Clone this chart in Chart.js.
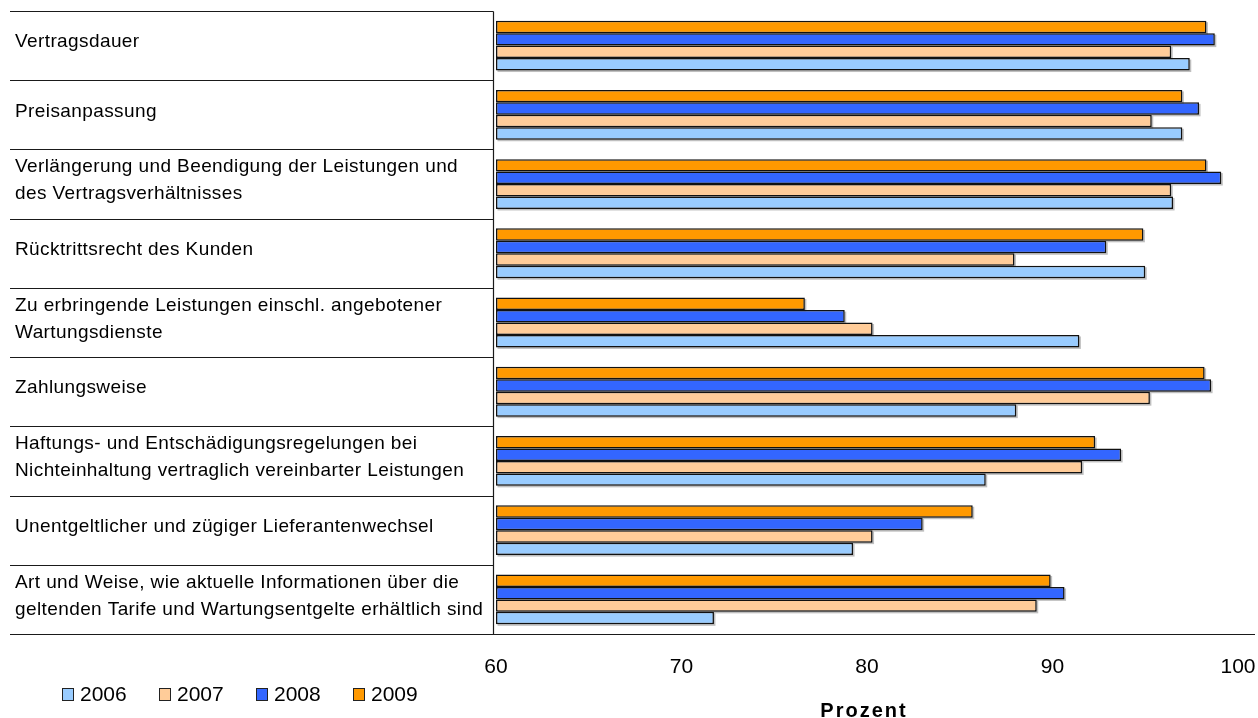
<!DOCTYPE html>
<html>
<head>
<meta charset="utf-8">
<script src="https://cdn.jsdelivr.net/npm/chart.js@4/dist/chart.umd.min.js"></script>
<style>
html,body{margin:0;padding:0;background:#fff;}
#wrap{position:relative;width:1258px;height:718px;overflow:hidden;}
canvas{display:block;}
.lg{position:absolute;top:682px;height:24px;display:flex;align-items:center;font:21px "Liberation Sans",Arial,sans-serif;color:#000;white-space:nowrap;}
.lg .box{width:10px;height:11px;border:1px solid #222;margin-right:6px;}
</style>
</head>
<body>
<div id="wrap">
<canvas id="c" width="1258" height="718"></canvas>
</div>
<script>
const categories = [
  ["Vertragsdauer"],
  ["Preisanpassung"],
  ["Verlängerung und Beendigung der Leistungen und", "des Vertragsverhältnisses"],
  ["Rücktrittsrecht des Kunden"],
  ["Zu erbringende Leistungen einschl. angebotener", "Wartungsdienste"],
  ["Zahlungsweise"],
  ["Haftungs- und Entschädigungsregelungen bei", "Nichteinhaltung vertraglich vereinbarter Leistungen"],
  ["Unentgeltlicher und zügiger Lieferantenwechsel"],
  ["Art und Weise, wie aktuelle Informationen über die", "geltenden Tarife und Wartungsentgelte erhältlich sind"]
];
const years = ["2006", "2007", "2008", "2009"];
const v2006 = [97.4, 97.0, 96.5, 95.0, 91.45, 88.05, 86.4, 79.25, 71.75];
const v2007 = [96.4, 95.35, 96.4, 87.95, 80.3, 95.25, 91.6, 80.3, 89.15];
const v2008 = [98.75, 97.9, 99.1, 92.9, 78.8, 98.55, 93.7, 83.0, 90.65];
const v2009 = [98.3, 97.0, 98.3, 94.9, 76.65, 98.2, 92.3, 85.7, 89.9];
const xTicks = [60, 70, 80, 90, 100];
const axisTitle = "Prozent";

const colors = {"2006": "#99CCFF", "2007": "#FFCC99", "2008": "#3366FF", "2009": "#FF9900"};
const seriesByYear = {"2006": v2006, "2007": v2007, "2008": v2008, "2009": v2009};

// HTML legend
const wrap = document.getElementById('wrap');
years.forEach((yr, i) => {
  const d = document.createElement('div');
  d.className = 'lg';
  d.style.left = (62 + i * 97) + 'px';
  const b = document.createElement('span');
  b.className = 'box';
  b.style.background = colors[yr];
  d.appendChild(b);
  d.appendChild(document.createTextNode(yr));
  wrap.appendChild(d);
});

const FONT = '"Liberation Sans", Arial, sans-serif';

const shadowPlugin = {
  id: 'barShadow',
  beforeDatasetsDraw(chart) {
    const ctx = chart.ctx;
    const ca = chart.chartArea;
    ctx.save();
    ctx.beginPath();
    ctx.rect(ca.left, ca.top, ca.right - ca.left + 4, ca.bottom - ca.top + 4);
    ctx.clip();
    ctx.fillStyle = 'rgba(0,0,0,0.25)';
    chart.data.datasets.forEach((ds, di) => {
      chart.getDatasetMeta(di).data.forEach(bar => {
        const p = bar.getProps(['x', 'y', 'base', 'height'], true);
        const left = Math.min(p.x, p.base), w = Math.abs(p.x - p.base);
        ctx.fillRect(left + 1.5, p.y - p.height / 2 + 1.5, w, p.height);
      });
    });
    ctx.restore();
  }
};

const framePlugin = {
  id: 'frame',
  afterDraw(chart) {
    const {ctx, chartArea: ca, scales: {y}} = chart;
    const n = categories.length;
    const band = (ca.bottom - ca.top) / n;
    const vx = Math.round(ca.left - 3) + 0.5;
    ctx.save();
    ctx.strokeStyle = '#1a1a1a';
    ctx.lineWidth = 1.2;
    for (let i = 0; i < n; i++) {
      const yy = Math.round(y.getPixelForValue(i) - band / 2) + 0.5;
      ctx.beginPath();
      ctx.moveTo(10, yy);
      ctx.lineTo(vx, yy);
      ctx.stroke();
    }
    ctx.beginPath();
    ctx.moveTo(vx, Math.round(ca.top) + 0.5);
    ctx.lineTo(vx, Math.round(ca.bottom) + 0.5);
    ctx.stroke();
    const by = Math.round(ca.bottom) + 0.5;
    ctx.beginPath();
    ctx.moveTo(10, by);
    ctx.lineTo(1255, by);
    ctx.stroke();
    ctx.fillStyle = '#000';
    ctx.font = '19px ' + FONT;
    try { ctx.letterSpacing = '0.4px'; } catch (e) {}
    ctx.textAlign = 'left';
    ctx.textBaseline = 'middle';
    const lh = 27;
    categories.forEach((lines, i) => {
      const cy = y.getPixelForValue(i) - 3.5;
      const start = cy - (lines.length - 1) * lh / 2;
      lines.forEach((t, k) => ctx.fillText(t, 15, start + k * lh));
    });
    // axis title
    ctx.font = 'bold 20px ' + FONT;
    try { ctx.letterSpacing = '2px'; } catch (e) {}
    ctx.textAlign = 'center';
    ctx.textBaseline = 'alphabetic';
    ctx.fillText(axisTitle, (ca.left + ca.right) / 2 - 3, 717);
    ctx.restore();
  }
};

const datasets = years.slice().reverse().map(yr => ({
  label: yr,
  data: seriesByYear[yr],
  base: xTicks[0],
  backgroundColor: colors[yr],
  borderColor: '#111',
  borderWidth: 1.5,
  borderSkipped: false,
  barPercentage: 1,
  categoryPercentage: 0.72
}));

new Chart(document.getElementById('c'), {
  type: 'bar',
  data: {labels: categories.map(c => c.join(' ')), datasets},
  options: {
    indexAxis: 'y',
    responsive: false,
    animation: false,
    layout: {padding: {left: 10, right: 20, top: 11, bottom: 0}},
    plugins: {legend: {display: false}, tooltip: {enabled: false}},
    scales: {
      y: {
        type: 'category',
        grid: {display: false, drawTicks: false},
        border: {display: false},
        ticks: {display: false},
        afterFit(scale) { scale.width = 486; scale.paddingTop = 0; scale.paddingBottom = 0; }
      },
      x: {
        type: 'linear',
        min: xTicks[0],
        max: xTicks[xTicks.length - 1],
        afterBuildTicks(scale) { scale.ticks = xTicks.map(v => ({value: v})); },
        grid: {display: false, drawTicks: false},
        border: {display: false},
        ticks: {color: '#000', font: {family: FONT, size: 21}, padding: 21, maxRotation: 0},
        title: {display: false},
        afterFit(scale) { scale.height = 84; scale.paddingLeft = 0; scale.paddingRight = 0; }
      }
    }
  },
  plugins: [shadowPlugin, framePlugin]
});
</script>
</body>
</html>
